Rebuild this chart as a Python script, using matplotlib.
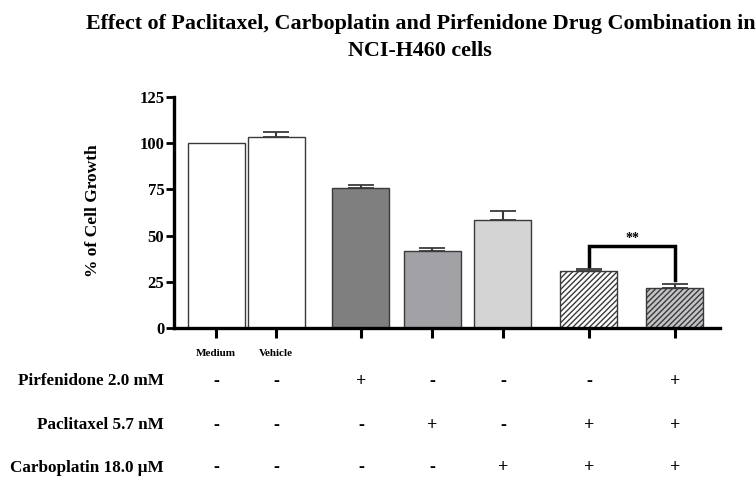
import matplotlib
matplotlib.use("Agg")
import matplotlib.pyplot as plt
import matplotlib.transforms as mtransforms

plt.rcParams['font.family'] = ['Liberation Serif', 'DejaVu Serif']
plt.rcParams['font.weight'] = 'bold'
plt.rcParams['hatch.linewidth'] = 1.0

# data
groups = ['Medium', 'Vehicle', 'Pirf', 'Pacl', 'Carbo', 'Pacl+Carbo', 'Pirf+Pacl+Carbo']
growth = [100, 103.5, 76, 41.5, 58.5, 30.7, 21.8]
sem = [0, 2.7, 1.5, 2.0, 4.8, 1.3, 2.0]
row_names = ['Pirfenidone 2.0 mM', 'Paclitaxel 5.7 nM', 'Carboplatin 18.0 \u03bcM']
pirf = ['-', '-', '+', '-', '-', '-', '+']
pacl = ['-', '-', '-', '+', '-', '+', '+']
carbo = ['-', '-', '-', '-', '+', '+', '+']
y_ticks = [0, 25, 50, 75, 100, 125]

# layout / styling
xpos = [0.74, 1.79, 3.28, 4.53, 5.77, 7.28, 8.79]
colors = ['white', 'white', '#7f7f7f', '#a2a2a6', '#d4d4d4', 'white', '#c4c4c8']
hatches = [None, None, None, None, None, '//////', '//////']

fig = plt.figure(figsize=(7.56, 4.79), dpi=100)
ax = fig.add_axes([0.2302, 0.3152, 0.7222, 0.4823])

for x, v, c, h in zip(xpos, growth, colors, hatches):
    ax.bar(x, v, width=1.0, color=c, edgecolor='#3a3a3a', linewidth=1.0, hatch=h, zorder=2)

for x, v, e in zip(xpos, growth, sem):
    if e > 0:
        ax.errorbar(x, v, yerr=[[0], [e]], fmt='none', ecolor='#3a3a3a',
                    elinewidth=1.5, capsize=9.5, capthick=1.3, zorder=3)

# significance bracket between the last two bars
x6, x7 = xpos[5], xpos[6]
ax.plot([x6, x6, x7, x7], [33.7, 44.6, 44.6, 26.0], color='black', lw=2.5,
        solid_joinstyle='miter', zorder=4)
ax.text((x6 + x7) / 2, 48.5, '**', ha='center', va='center', fontsize=10, fontweight='bold')

ax.set_xlim(0, 9.58)
ax.set_ylim(0, 125)
ax.set_yticks(y_ticks)
ax.set_yticklabels([str(t) for t in y_ticks], fontsize=12, fontweight='bold')
ax.set_xticks(xpos)
ax.set_xticklabels([])
ax.tick_params(axis='y', length=6, width=2, pad=1)
ax.tick_params(axis='x', length=7, width=2.2, direction='out')
for s in ['top', 'right']:
    ax.spines[s].set_visible(False)
for s in ['left', 'bottom']:
    ax.spines[s].set_linewidth(2.4)
ax.set_ylabel('% of Cell Growth', fontsize=12.5, fontweight='bold')
ax.yaxis.set_label_coords(-0.133, 0.51)

trans = mtransforms.blended_transform_factory(ax.transData, fig.transFigure)
ax.text(xpos[0], 1 - 353 / 479, groups[0], transform=trans, ha='center', va='center', fontsize=8)
ax.text(xpos[1], 1 - 354 / 479, groups[1], transform=trans, ha='center', va='center', fontsize=8)

row_y = [1 - 381 / 479, 1 - 425 / 479, 1 - 468 / 479]
for name, signs, yy in zip(row_names, [pirf, pacl, carbo], row_y):
    fig.text(164 / 756, yy, name, ha='right', va='center', fontsize=12.3)
    for x, s in zip(xpos, signs):
        ax.text(x, yy, s, transform=trans, ha='center', va='center', fontsize=13, clip_on=False)

fig.text(421 / 756, 1 - 24 / 479,
         'Effect of Paclitaxel, Carboplatin and Pirfenidone Drug Combination in',
         ha='center', va='center', fontsize=15.8)
fig.text(420 / 756, 1 - 51 / 479, 'NCI-H460 cells', ha='center', va='center', fontsize=15.8)

fig.savefig('out.png', dpi=100)
